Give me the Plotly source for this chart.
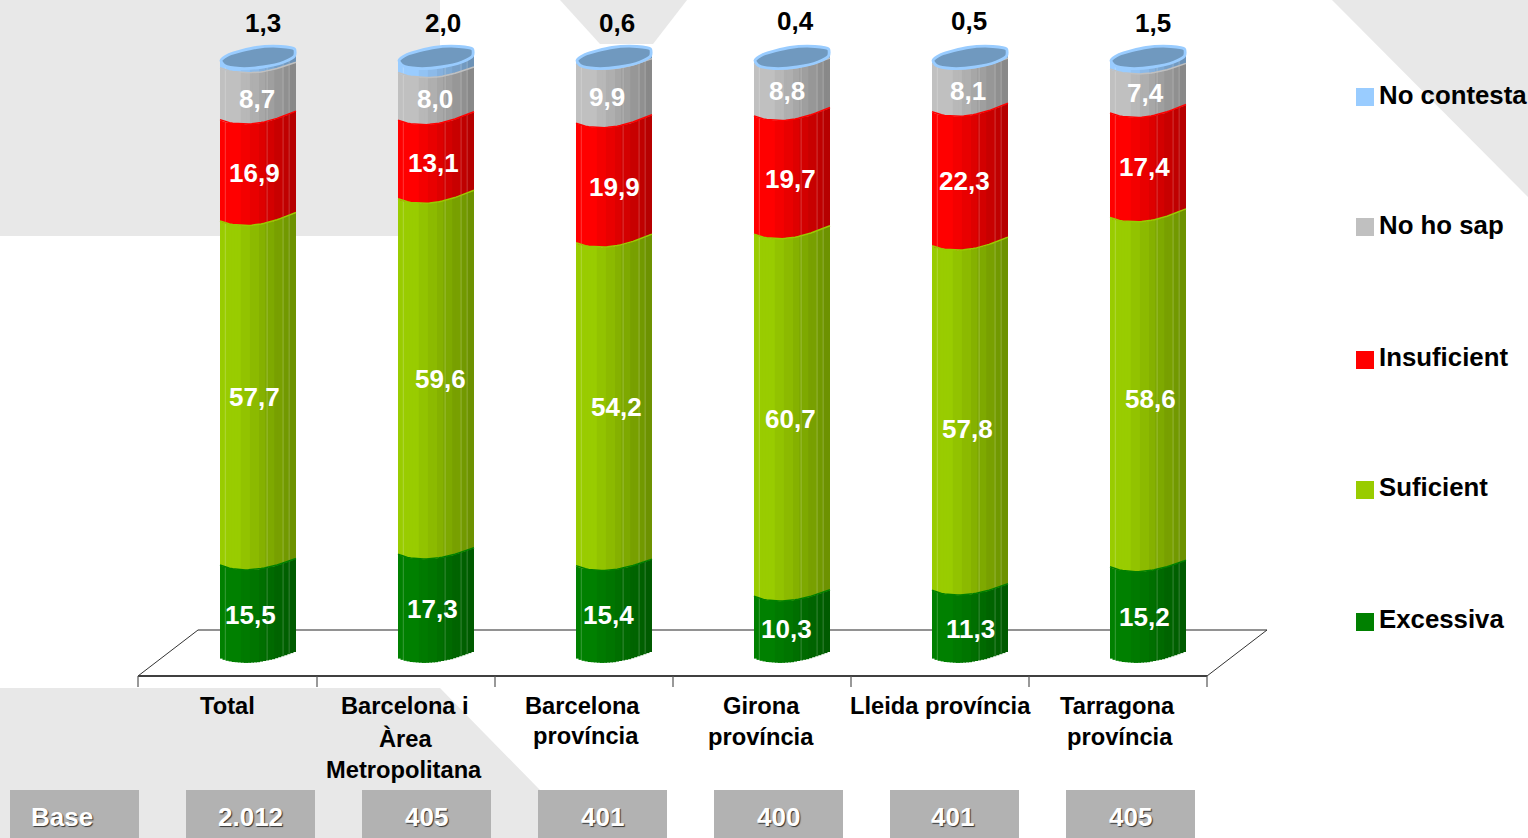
import numpy as np
import plotly.graph_objects as go

W, H = 1528, 838

# ---- data ----
categories = [["Total"], ["Barcelona i", "Àrea", "Metropolitana"], ["Barcelona", "província"],
              ["Girona", "província"], ["Lleida província"], ["Tarragona", "província"]]
base_labels = ["2.012", "405", "401", "400", "401", "405"]
excessiva = [15.5, 17.3, 15.4, 10.3, 11.3, 15.2]
suficient = [57.7, 59.6, 54.2, 60.7, 57.8, 58.6]
insuficient = [16.9, 13.1, 19.9, 19.7, 22.3, 17.4]
no_ho_sap = [8.7, 8.0, 9.9, 8.8, 8.1, 7.4]
no_contesta = [1.3, 2.0, 0.6, 0.4, 0.5, 1.5]

series_names = ["Excessiva", "Suficient", "Insuficient", "No ho sap", "No contesta"]
series_values = [excessiva, suficient, insuficient, no_ho_sap, no_contesta]
series_colors = [(0, 128, 0), (153, 204, 0), (255, 0, 0), (192, 192, 192), (153, 204, 255)]

# ---- layout helpers (pixel geometry of the page) ----
PX_PER_UNIT = 6.0
ZERO_Y = 658.0
FIRST_X = 258.0
STEP = 178.0
BAR_W = 76.0

def vy(py):
    return (ZERO_Y - np.asarray(py, dtype=float)) / PX_PER_UNIT

xr = [-FIRST_X / STEP, (W - FIRST_X) / STEP]
yr = [float(vy(H)), float(vy(0))]

def P(x, y):
    return x / W, 1 - y / H

# cylinder look: thin strips with a curved front edge, coloured by facet
facets = np.array([0, .08, .17, .27, .38, .50, .61, .72, .83, .91, 1.0])
edges = np.linspace(0, 1, 26)
knot_t = [0, .08, .18, .35, .5, .7, .85, 1.0]
knot_d = [0, 2.5, 4, 5, 4.2, 1.2, -2.5, -6.5]
hair_t = [.07, .62, .83, .91]

def curve(t, level):
    """Downward pixel offset of the front edge at boundary number `level`."""
    base = np.interp(t, knot_t, knot_d)
    if level >= 2:
        base = base + np.interp(t, [0, .6, 1], [2.2, 1.5, 0.2])
    if level == 4:
        base = base + np.interp(t, [0, .35, 1], [.3, .8, 3.3])
    return base

def shade(rgb, t):
    j = min(np.searchsorted(facets, t) - 1, len(facets) - 2)
    t = (facets[j] + facets[j + 1]) / 2
    f = 1.0 if t < .22 else 1.0 - (t - .22) / .78 * .30
    return "rgb(%d,%d,%d)" % tuple(int(c * f) for c in rgb)

fig = go.Figure()
cum = np.zeros(6)
pad = 0.5 / BAR_W
for k, (name, vals, rgb) in enumerate(zip(series_names, series_values, series_colors)):
    vals = np.array(vals)
    top = cum + vals
    for a, b in zip(edges[:-1], edges[1:]):
        mid = (a + b) / 2
        a2, b2 = max(0, a - pad), min(1, b + pad)
        low = cum - float(curve(mid, k)) / PX_PER_UNIT
        high = top - float(curve(mid, k + 1)) / PX_PER_UNIT
        fig.add_trace(go.Bar(
            x=np.arange(6) + ((a2 + b2) / 2 - .5) * BAR_W / STEP, y=high - low, base=low,
            width=(b2 - a2) * BAR_W / STEP, showlegend=False, hoverinfo="skip",
            marker=dict(color=shade(rgb, mid), line=dict(width=0))))
    # faint seams between facets
    hx, hy = [], []
    for i in range(6):
        for t in hair_t:
            hx += [i + (t - .5) * BAR_W / STEP] * 2 + [None]
            hy += [cum[i] - float(curve(t, k)) / PX_PER_UNIT,
                   top[i] - float(curve(t, k + 1)) / PX_PER_UNIT, None]
    fig.add_trace(go.Scatter(x=hx, y=hy, mode="lines",
                             line=dict(color="rgba(255,255,255,0.22)", width=1),
                             showlegend=False, hoverinfo="skip"))
    cum = top

# bright rim along the curved top edge of each block
cum = np.zeros(6)
ts = np.linspace(0, 1, 25)
for k, (vals, rgb) in enumerate(zip(series_values[:-1], series_colors[:-1])):
    cum = cum + np.array(vals)
    for i in range(6):
        fig.add_trace(go.Scatter(
            x=i + (ts - .5) * BAR_W / STEP, y=cum[i] - curve(ts, k + 1) / PX_PER_UNIT,
            mode="lines", line=dict(color="rgb(%d,%d,%d)" % rgb, width=1.5),
            showlegend=False, hoverinfo="skip"))

# top cap (outline of the opening, offsets from the bar centre / page y)
cap_dx = [-37, -29, -2, 23, 36.5, 36.5, 26, 5, -18, -33.5, -37]
cap_py = [60.5, 54.5, 47.5, 46.5, 49, 56, 62, 67, 68.5, 65.5, 60.5]
for i in range(6):
    fig.add_trace(go.Scatter(
        x=i + np.array(cap_dx) / STEP, y=vy(cap_py), mode="lines", fill="toself",
        fillcolor="#7099BF", line=dict(color="#99CCFF", width=2.8, shape="spline", smoothing=0.7),
        showlegend=False, hoverinfo="skip"))

# ---- decoration ----
BG = "#E8E8E8"
def poly(points, fill, line=None, width=0):
    path = "M " + " L ".join("%.5f,%.5f" % P(x, y) for x, y in points) + " Z"
    return dict(type="path", xref="paper", yref="paper", path=path, fillcolor=fill,
                line=dict(width=width, color=line or fill), layer="below")

def seg(x0, y0, x1, y1, color, width):
    a, b = P(x0, y0), P(x1, y1)
    return dict(type="line", xref="paper", yref="paper", x0=a[0], y0=a[1], x1=b[0], y1=b[1],
                line=dict(color=color, width=width), layer="below")

shapes = [
    poly([(0, 0), (440, 0), (440, 236), (0, 236)], BG),
    poly([(560, 0), (687, 0), (653, 44), (600, 44)], BG),
    poly([(1332, 0), (1528, 0), (1528, 197)], BG),
    poly([(0, 688), (440, 688), (540, 790), (540, 838), (0, 838)], BG),
]
# floor
shapes += [seg(198, 630, 1267, 630, "#6E6E6E", 1.6), seg(138, 676, 198, 630, "#333333", 1),
           seg(1207, 676, 1267, 630, "#333333", 1), seg(138, 676, 1207, 676, "#404040", 1.8)]
for tx in [138, 317, 495, 673, 851, 1029, 1207]:
    shapes.append(seg(tx, 676, tx, 687, "#555555", 1.2))
# base boxes
for bx in [10, 186, 362, 538, 714, 890, 1066]:
    shapes.append(poly([(bx, 790), (bx + 129, 790), (bx + 129, 838), (bx, 838)], "#B2B2B2"))
# legend
legend_y = {"No contesta": 95, "No ho sap": 225, "Insuficient": 357, "Suficient": 487, "Excessiva": 619}
swatch_y = {"No contesta": 97, "No ho sap": 227, "Insuficient": 360, "Suficient": 490, "Excessiva": 622}
for name, rgb in zip(series_names, series_colors):
    ly = swatch_y[name]
    shapes.append(poly([(1356, ly - 9), (1374, ly - 9), (1374, ly + 9), (1356, ly + 9)],
                       "rgb(%d,%d,%d)" % rgb))

# ---- text ----
FONT = "Liberation Sans, Arial, sans-serif"
ann = []
def text(s, x, y, size=26, color="#000000", anchor="center", shadow=None):
    px, py = P(x, y)
    f = dict(family=FONT, size=size, color=color, weight="bold")
    if shadow:
        f["shadow"] = shadow
    ann.append(dict(text=s, x=px, y=py, xref="paper", yref="paper", xanchor=anchor, yanchor="middle",
                    showarrow=False, font=f, borderpad=0, borderwidth=0))

fmt = lambda v: ("%.1f" % v).replace(".", ",")
label_xy = {
    0: [(250, 615), (432, 609), (608, 615), (786, 629), (970, 629), (1144, 617)],
    1: [(254, 397), (440, 379), (616, 407), (790, 419), (968, 429), (1150, 399)],
    2: [(254, 173), (433, 163), (614, 187), (790, 179), (964, 181), (1144, 167)],
    3: [(257, 99), (435, 99), (607, 97), (787, 91), (968, 91), (1145, 93)],
    4: [(263, 23), (443, 23), (617, 23), (795, 21), (969, 21), (1153, 23)],
}
for k, vals in enumerate(series_values):
    for v, (x, y) in zip(vals, label_xy[k]):
        text(fmt(v), x, y, color="#000000" if k == 4 else "#FFFFFF")

cat_xy = [[(227, 706)], [(405, 706), (405, 738), (404, 770)], [(582, 706), (586, 736)],
          [(761, 706), (761, 737)], [(940, 706)], [(1117, 706), (1120, 737)]]
for lines, pos in zip(categories, cat_xy):
    for s, (x, y) in zip(lines, pos):
        text(s, x, y, size=23.7)

SH = "1px 1px 1px #333333"
text("Base", 62, 817, color="#FFFFFF", shadow=SH)
for s, x in zip(base_labels, [250, 426, 602, 778, 953, 1130]):
    text(s, x, 817, color="#FFFFFF", shadow=SH)

for name in series_names:
    text(name, 1379, legend_y[name], anchor="left", size=25.8)

fig.update_layout(
    width=W, height=H, margin=dict(l=0, r=0, t=0, b=0), autosize=False,
    paper_bgcolor="#FFFFFF", plot_bgcolor="rgba(0,0,0,0)",
    barmode="overlay", showlegend=False, shapes=shapes, annotations=ann,
    xaxis=dict(range=xr, visible=False, fixedrange=True),
    yaxis=dict(range=yr, visible=False, fixedrange=True),
)
fig.write_html("out.html", post_script="document.body.style.margin='0';",
               config={"displayModeBar": False})
